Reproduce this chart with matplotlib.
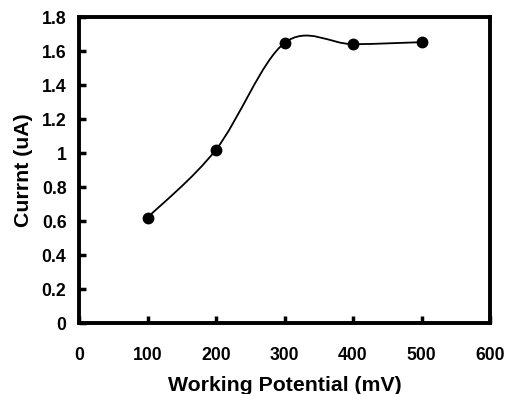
import matplotlib
matplotlib.use("Agg")
from matplotlib import pyplot as plt
from matplotlib.path import Path
from matplotlib.patches import PathPatch
import numpy as np

plt.rcParams['font.family'] = ['Liberation Sans', 'DejaVu Sans']
plt.rcParams['font.weight'] = 'bold'

potential = [100, 200, 300, 400, 500]
current = [0.62, 1.02, 1.647, 1.64, 1.652]
x_ticks = [0, 100, 200, 300, 400, 500, 600]
y_ticks = [0, 0.2, 0.4, 0.6, 0.8, 1, 1.2, 1.4, 1.6, 1.8]
y_labels = ['0', '0.2', '0.4', '0.6', '0.8', '1', '1.2', '1.4', '1.6', '1.8']


def smooth_path(xs, ys):
    # excel-ish smoothed line: bezier segments with catmull-rom control points
    pts = np.column_stack([xs, ys]).astype(float)
    n = len(pts)
    verts = [pts[0]]
    codes = [Path.MOVETO]
    for i in range(n - 1):
        p0 = pts[i - 1] if i > 0 else pts[i]
        p1 = pts[i]
        p2 = pts[i + 1]
        p3 = pts[i + 2] if i + 2 < n else pts[i + 1]
        c1 = p1 + (p2 - p0) / 6.0
        c2 = p2 - (p3 - p1) / 6.0
        verts += [c1, c2, p2]
        codes += [Path.CURVE4] * 3
    return Path(verts, codes)


fig = plt.figure(figsize=(5.05, 3.94), dpi=100)
ax = fig.add_axes([79 / 505, 1 - 323 / 394, 411 / 505, 306 / 394])

ax.add_patch(PathPatch(smooth_path(potential, current), fill=False, lw=1.3, color='black'))
ax.plot(potential, current, 'o', color='black', markersize=7.5, zorder=3)

ax.set_xlim(0, 600)
ax.set_ylim(0, 1.8)
ax.set_xticks(x_ticks)
ax.set_yticks(y_ticks)
ax.set_yticklabels(y_labels)
ax.tick_params(direction='in', length=5, width=2.5, labelsize=12.7, pad=9)
ax.tick_params(axis='x', pad=17)
for s in ax.spines.values():
    s.set_linewidth(2.8)

ax.set_xlabel('Working Potential (mV)', fontsize=15.3, fontweight='bold', labelpad=9)
ax.set_ylabel('Currnt (uA)', fontsize=15.3, fontweight='bold', labelpad=6)

fig.savefig('out.png', dpi=100)
